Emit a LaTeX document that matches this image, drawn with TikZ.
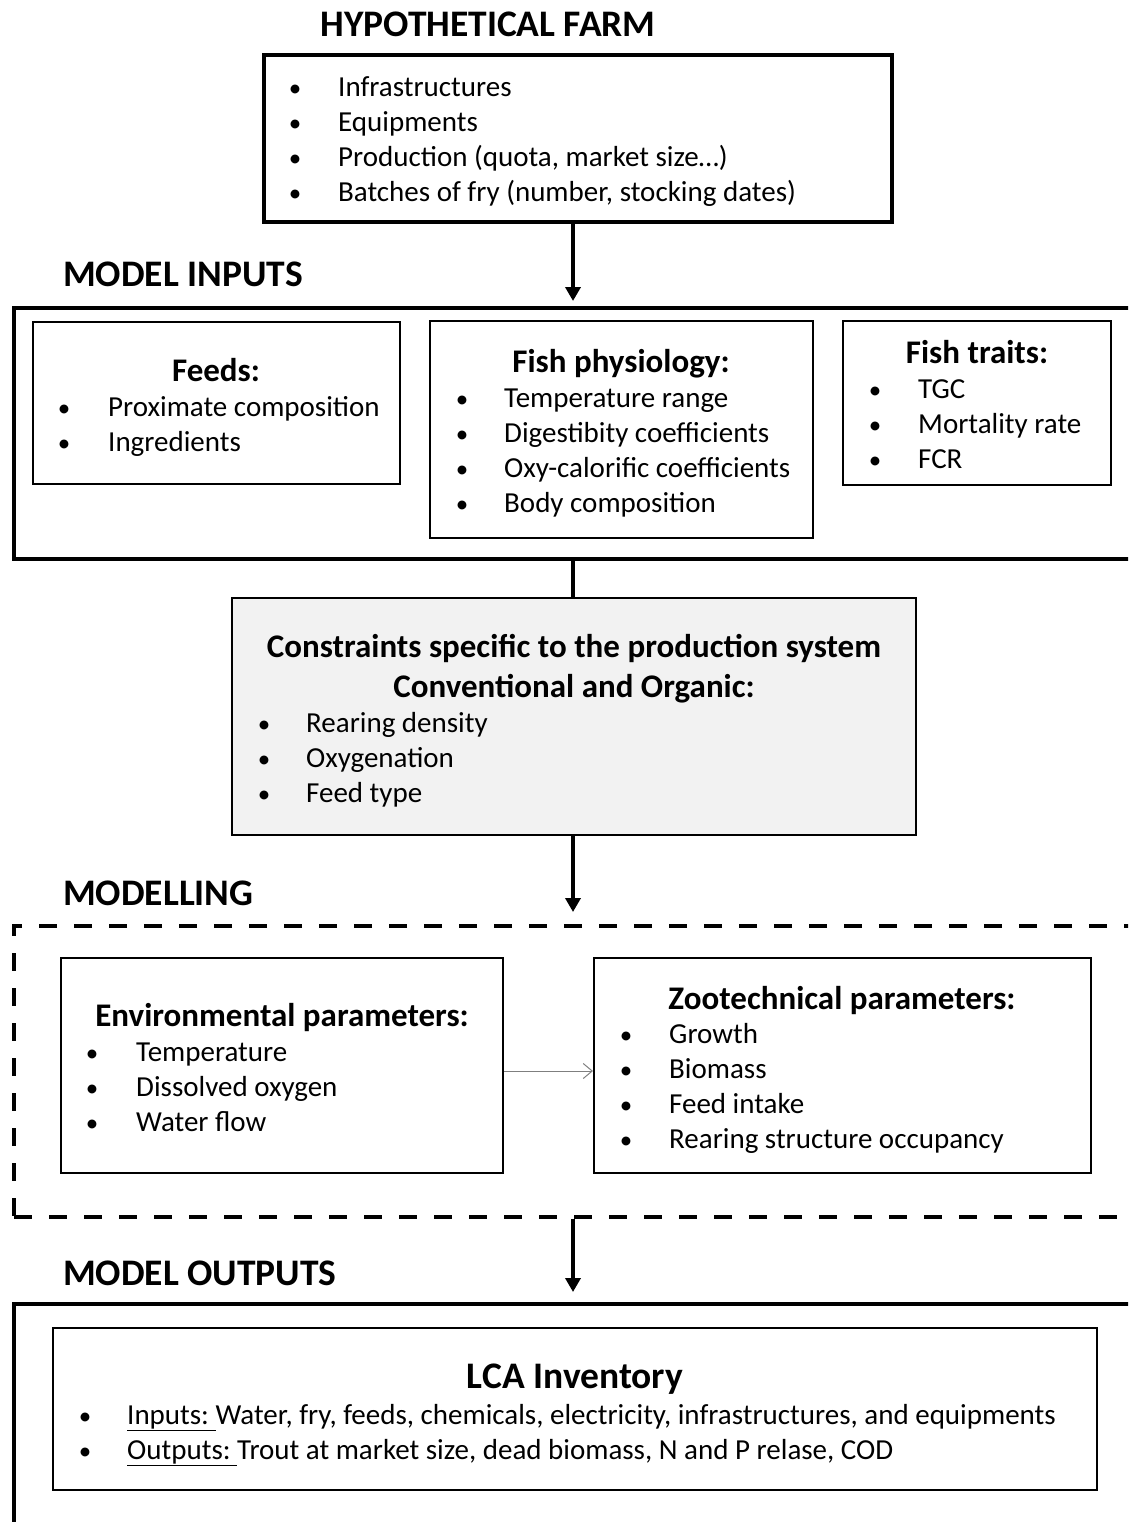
\documentclass[tikz,border=0pt]{standalone}
\usepackage{fontspec}
\setmainfont{Carlito}
\usetikzlibrary{arrows.meta,fit}
\definecolor{consfill}{HTML}{F2F2F2}
\definecolor{arrgray}{HTML}{7F7F7F}
\newcommand\bitem[5]{%
  \node[bul,anchor=base] (#1b) at (#2,#4+10) {•};
  \node[txt,anchor=base west] (#1) at (#3,#4+10) {#5};}
\begin{document}
\begin{tikzpicture}[x=1pt,y=-1pt,
  txt/.style={inner sep=0pt, font=\fontsize{29}{35}\selectfont},
  bul/.style={inner sep=0pt, font=\fontsize{25}{30}\selectfont},
  ttl/.style={inner sep=0pt, font=\fontsize{33}{39}\selectfont\bfseries},
  hd/.style={inner sep=0pt, font=\fontsize{37.5}{44}\selectfont\bfseries},
  thickbox/.style={draw, line width=4pt, inner sep=0pt},
  thinbox/.style={draw, line width=2pt, inner sep=0pt},
  dashbox/.style={draw, line width=4pt, inner sep=0pt, dash pattern=on 18pt off 17pt},
  mainarrow/.style={line width=4pt, -{Triangle[length=14pt,width=15pt]}},
  grayarrow/.style={line width=1pt, draw=arrgray, -{Straight Barb[length=9pt,width=15pt]}},
  ]
\useasboundingbox (0,0) rectangle (1128,1522);
\clip (0,0) rectangle (1128,1522);
\coordinate (ax) at (573,0);
\coordinate (ay) at (0,1071);

% boxes
\node[thickbox, fit={(264,55) (892,222)}] (farm) {};
\node[thickbox, fit={(14,308) (1150,559)}] (inputs) {};
\node[thinbox, fit={(33,322) (400,484)}] (feeds) {};
\node[thinbox, fit={(430,321) (813,538)}] (phys) {};
\node[thinbox, fit={(843,321) (1111,485)}] (traits) {};
\node[thinbox, fill=consfill, fit={(232,598) (916,835)}] (cons) {};
\node[dashbox, fit={(14,926) (1150,1217)}] (model) {};
\node[thinbox, fit={(61,958) (503,1173)}] (env) {};
\node[thinbox, fit={(594,958) (1091,1173)}] (zoo) {};
\node[thickbox, fit={(14,1304) (1150,1570)}] (outputs) {};
\node[thinbox, fit={(53,1328) (1097,1490)}] (lca) {};

% connectors
\draw[mainarrow, shorten >=5pt] (farm.south -| ax) -- (inputs.north -| ax);
\draw[line width=4pt] (inputs.south -| ax) -- (cons.north -| ax);
\draw[mainarrow, shorten >=12pt] (cons.south -| ax) -- (model.north -| ax);
\draw[grayarrow] (env.east |- ay) -- (zoo.west |- ay);
\draw[mainarrow, shorten >=10pt] (model.south -| ax) -- (outputs.north -| ax);

% headings
\node[hd, anchor=base] (hfarm) at (488,37) {HYPOTHETICAL FARM};
\node[hd, anchor=base west] (hin) at (63,287) {MODEL INPUTS};
\node[hd, anchor=base west] (hmod) at (63,905) {MODELLING};
\node[hd, anchor=base west] (hout) at (63,1285) {MODEL OUTPUTS};

% farm list
\bitem{f1}{295}{338}{87}{Infrastructures}
\bitem{f2}{295}{338}{122}{Equipments}
\bitem{f3}{295}{338}{157}{Production (quota, market size…)}
\bitem{f4}{295}{338}{192}{Batches of fry (number, stocking dates)}

% feeds
\node[ttl, anchor=base] (tfeeds) at (216,381) {Feeds:};
\bitem{fe1}{64}{108}{406}{Proximate composition}
\bitem{fe2}{64}{108}{441}{Ingredients}

% physiology
\node[ttl, anchor=base] (tphys) at (621,372) {Fish physiology:};
\bitem{p1}{462}{504}{397}{Temperature  range}
\bitem{p2}{462}{504}{432}{Digestibity coefficients}
\bitem{p3}{462}{504}{467}{Oxy-calorific coefficients}
\bitem{p4}{462}{504}{502}{Body composition}

% traits
\node[ttl, anchor=base] (ttraits) at (977,363) {Fish traits:};
\bitem{t1}{875}{918}{388}{TGC}
\bitem{t2}{875}{918}{423}{Mortality rate}
\bitem{t3}{875}{918}{458}{FCR}

% constraints
\node[ttl, anchor=base] (tcons1) at (574,657) {Constraints specific to the production system};
\node[ttl, anchor=base] (tcons2) at (574,697) {Conventional and Organic:};
\bitem{c1}{264}{306}{722}{Rearing density}
\bitem{c2}{264}{306}{757}{Oxygenation}
\bitem{c3}{264}{306}{792}{Feed type}

% environmental
\node[ttl, anchor=base] (tenv) at (282,1026) {Environmental parameters:};
\bitem{e1}{92}{136}{1051}{Temperature}
\bitem{e2}{92}{136}{1086}{Dissolved oxygen}
\bitem{e3}{92}{136}{1121}{Water flow}

% zootechnical
\node[ttl, anchor=base] (tzoo) at (842,1009) {Zootechnical parameters:};
\bitem{z1}{626}{669}{1033}{Growth}
\bitem{z2}{626}{669}{1068}{Biomass}
\bitem{z3}{626}{669}{1103}{Feed intake}
\bitem{z4}{626}{669}{1138}{Rearing structure occupancy}

% LCA
\node[hd, anchor=base] (tlca) at (575,1388) {LCA Inventory};
\bitem{l1}{85}{127}{1414}{\underline{Inputs:\ }Water, fry, feeds, chemicals, electricity, infrastructures, and equipments}
\bitem{l2}{85}{127}{1449}{\underline{Outputs:\ }Trout at market size, dead biomass, N and P relase, COD}
\end{tikzpicture}
\end{document}
